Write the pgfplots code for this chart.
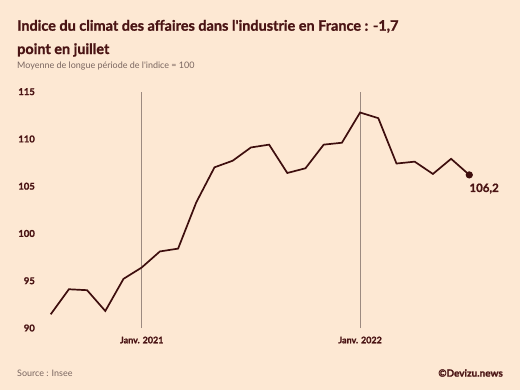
\documentclass[border=0pt]{standalone}
\usepackage{fontspec}
\setmainfont{Lato}[BoldFeatures={FakeBold=1.2}]
\usepackage{pgfplots}
\pgfplotsset{compat=1.18}
\definecolor{bg}{HTML}{FDE8D3}
\definecolor{ink}{HTML}{3E0E0E}
\definecolor{titlec}{HTML}{4A1414}
\definecolor{sub}{HTML}{7A6660}
\definecolor{gridc}{HTML}{9C8A80}
\begin{document}
\begin{tikzpicture}
\fill[bg] (0bp,0bp) rectangle (520bp,-390bp);
\node[anchor=base west, inner sep=0, font=\fontsize{14.5}{17}\selectfont\bfseries, text=titlec] at (17bp,-30.7bp) {Indice du climat des affaires dans l\textquotesingle industrie en France : -1,7};
\node[anchor=base west, inner sep=0, font=\fontsize{14.5}{17}\selectfont\bfseries, text=titlec] at (17bp,-54bp) {point en juillet};
\node[anchor=west, inner sep=0, font=\fontsize{9}{11}\selectfont, text=sub] at (17bp,-66bp) {Moyenne de longue période de l\textquotesingle indice = 100};
\node[anchor=west, inner sep=0, font=\fontsize{9}{11}\selectfont, text=sub] at (17bp,-373bp) {Source : Insee};
\node[anchor=east, inner sep=0, font=\fontsize{10}{12}\selectfont\bfseries, text=titlec] at (503bp,-373bp) {©Devizu.news};
\begin{axis}[
  at={(50.7bp,-328bp)}, anchor=south west,
  scale only axis, width=418.6bp, height=236.3bp,
  xmin=0, xmax=23, ymin=90, ymax=115,
  axis line style={draw=none},
  major tick length=0pt,
  ytick={90,95,100,105,110,115},
  xtick={5,17}, xticklabels={Janv. 2021,Janv. 2022},
  xmajorgrids=true,
  major grid style={draw=gridc, line width=0.8bp},
  /pgf/number format/assume math mode=true,
  yticklabel style={font=\fontsize{9.5}{11}\selectfont\bfseries, text=titlec, anchor=east, inner sep=0pt, xshift=-15.7bp},
  xticklabel style={font=\fontsize{9}{11}\selectfont\bfseries, text=titlec, anchor=north, inner sep=0pt, yshift=-8.5bp},
  clip=false,
]
\addplot[ink, line width=1.7bp, mark=*, mark indices={24}, mark size=2.7bp, mark options={fill=ink, draw=ink}] coordinates {
(0,91.45) (1,94.1) (2,94.0) (3,91.8) (4,95.2) (5,96.4) (6,98.1) (7,98.4)
(8,103.3) (9,107.0) (10,107.7) (11,109.1) (12,109.4) (13,106.4) (14,106.9)
(15,109.4) (16,109.6) (17,112.8) (18,112.2) (19,107.4) (20,107.6) (21,106.3)
(22,107.9) (23,106.2)
};
\node[anchor=north west, inner sep=0pt, font=\fontsize{11.5}{13}\selectfont\bfseries, text=titlec, yshift=-8.5bp, xshift=0bp] at (axis cs:23,106.2) {106,2};
\end{axis}
\end{tikzpicture}
\end{document}
